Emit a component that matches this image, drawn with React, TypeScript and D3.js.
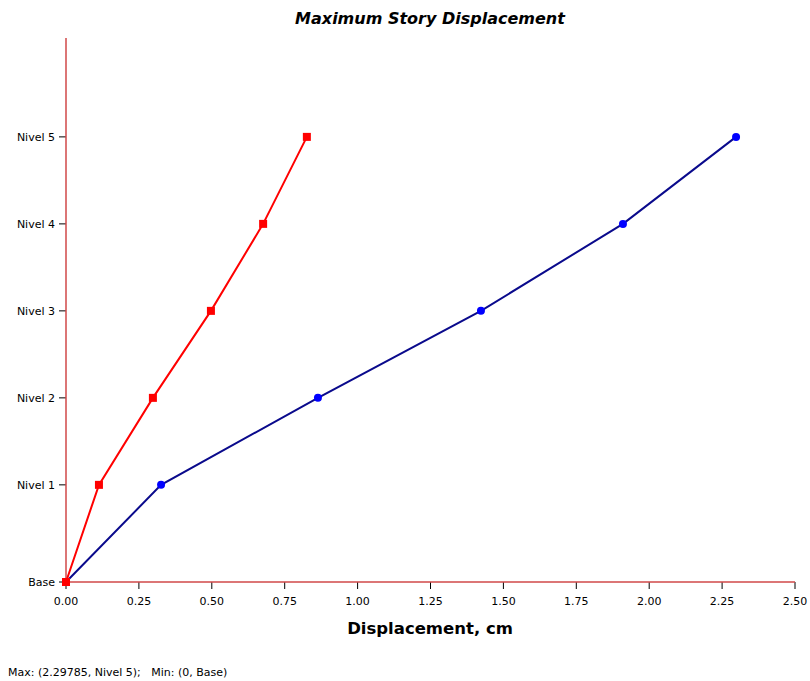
import React from "react";
import * as d3 from "d3";

const storyLabels = ["Base", "Nivel 1", "Nivel 2", "Nivel 3", "Nivel 4", "Nivel 5"];
const storyElev = [0, 3.35, 6.35, 9.35, 12.35, 15.35];
const seriesBlue = [0, 0.326, 0.864, 1.423, 1.91, 2.29785];
const seriesRed = [0, 0.113, 0.298, 0.497, 0.676, 0.826];
const xTicks = [0, 0.25, 0.5, 0.75, 1.0, 1.25, 1.5, 1.75, 2.0, 2.25, 2.5];

const W = 810, H = 681;
const left = 66, right = 795, top = 38, bottom = 582;

export default function App() {
  const x = d3.scaleLinear().domain([0, 2.5]).range([left, right]);
  const y = d3.scaleLinear().domain([0, 18.76]).range([bottom, top]);
  const line = d3.line<number>().x((d) => x(d)).y((_, i) => y(storyElev[i]));
  const font = "'DejaVu Sans', Verdana, sans-serif";
  const axisColor = "#d04848";
  return (
    <svg width={W} height={H} style={{ position: "absolute", left: 0, top: 0, background: "#fff" }} fontFamily={font}>
      <text x={430} y={24} textAnchor="middle" fontSize={16} fontWeight="bold" fontStyle="italic">Maximum Story Displacement</text>
      {storyLabels.map((s, i) => (
        <g key={s}>
          <line x1={left - 7} x2={left} y1={y(storyElev[i])} y2={y(storyElev[i])} stroke="#000" />
          <text x={left - 11} y={y(storyElev[i]) + 4} textAnchor="end" fontSize={11}>{s}</text>
        </g>
      ))}
      {xTicks.map((t) => (
        <g key={t}>
          <line x1={x(t)} x2={x(t)} y1={bottom} y2={bottom + 7} stroke="#000" />
          <text x={x(t)} y={bottom + 23} textAnchor="middle" fontSize={11}>{t.toFixed(2)}</text>
        </g>
      ))}
      <line x1={left} x2={left} y1={top} y2={bottom} stroke={axisColor} strokeWidth={1.5} />
      <line x1={left} x2={right} y1={bottom} y2={bottom} stroke={axisColor} strokeWidth={1.5} />
      <text x={430} y={634} textAnchor="middle" fontSize={16.5} fontWeight="bold">Displacement, cm</text>
      <path d={line(seriesBlue) || ""} fill="none" stroke="#0a0a8c" strokeWidth={2} />
      {seriesBlue.map((v, i) => (
        <circle key={i} cx={x(v)} cy={y(storyElev[i])} r={4} fill="#0000ff" />
      ))}
      <path d={line(seriesRed) || ""} fill="none" stroke="#ff0000" strokeWidth={2} />
      {seriesRed.map((v, i) => (
        <rect key={i} x={x(v) - 4} y={y(storyElev[i]) - 4} width={8} height={8} fill="#ff0000" />
      ))}
      <text x={8} y={676} fontSize={11} style={{ whiteSpace: "pre" }}>{"Max: (2.29785, Nivel 5);   Min: (0, Base)"}</text>
    </svg>
  );
}
